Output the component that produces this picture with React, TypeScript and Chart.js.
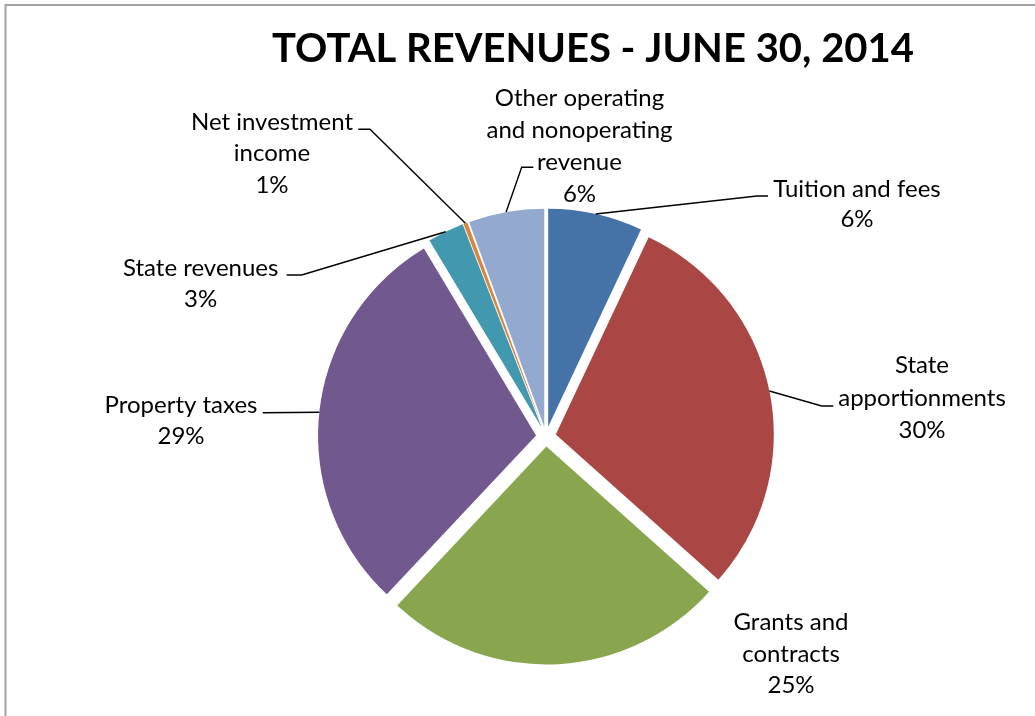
import React, { useEffect, useRef } from "react";
import { Chart, registerables } from "chart.js";

Chart.register(...registerables);

// ---- data ----
const CATEGORIES = [
  "Tuition and fees",
  "State apportionments",
  "Grants and contracts",
  "Property taxes",
  "State revenues",
  "Net investment income",
  "Other operating and nonoperating revenue",
];
const SHARES = [7.0, 29.6, 25.4, 29.4, 2.7, 0.3, 5.6];
const PERCENT_LABELS = ["6%", "30%", "25%", "29%", "3%", "1%", "6%"];
const LABEL_LINES = [
  ["Tuition and fees"],
  ["State", "apportionments"],
  ["Grants and", "contracts"],
  ["Property taxes"],
  ["State revenues"],
  ["Net investment", "income"],
  ["Other operating", "and nonoperating", "revenue"],
];
const TITLE = "TOTAL REVENUES - JUNE 30, 2014";

// ---- styles / layout ----
const COLORS = ["#4572A7", "#AA4643", "#89A54E", "#71588F", "#4198AF", "#DB843D", "#93A9CF"];
const EXPLODE = 10;
const LABEL_FONT = "24px Lato";
const TITLE_FONT = "bold 40px Lato";

// label placement relative to the pie centre (px)
type Pt = [number, number];
const LABEL_LAYOUT: { dx: number; dy: number; lh: number; elbow?: Pt; end?: Pt }[] = [
  { dx: 311, dy: -239.8, lh: 30, elbow: [211, -240.5], end: [222, -240.5] },
  { dx: 376, dy: -63.2, lh: 32.5, elbow: [275.7, -30.5], end: [287.3, -30.5] },
  { dx: 245, dy: 193.5, lh: 31.5 },
  { dx: -365, dy: -23.2, lh: 30.7, end: [-283.3, -23.8] },
  { dx: -345.3, dy: -160.5, lh: 30.7, elbow: [-244.3, -161.5], end: [-259.3, -161.5] },
  { dx: -274, dy: -307, lh: 31.5, elbow: [-176, -307.2], end: [-187.7, -307.2] },
  { dx: 33.5, dy: -330.5, lh: 32, elbow: [-24.3, -269.2], end: [-12.7, -269.2] },
];

const explodedPie = {
  id: "explodedPie",
  beforeDatasetDraw(chart: any, args: any) {
    const meta = chart.getDatasetMeta(args.index);
    const ctx = chart.ctx;
    ctx.save();
    meta.data.forEach((arc: any) => {
      const { x, y, startAngle, endAngle, outerRadius } = arc.getProps(
        ["x", "y", "startAngle", "endAngle", "outerRadius"],
        true
      );
      const mid = (startAngle + endAngle) / 2;
      const ox = x + Math.cos(mid) * EXPLODE;
      const oy = y + Math.sin(mid) * EXPLODE;
      ctx.beginPath();
      ctx.moveTo(ox, oy);
      ctx.arc(ox, oy, outerRadius, startAngle, endAngle);
      ctx.closePath();
      ctx.fillStyle = arc.options.backgroundColor;
      ctx.fill();
    });
    ctx.restore();
    return false;
  },
  afterDatasetsDraw(chart: any) {
    const meta = chart.getDatasetMeta(0);
    const ctx = chart.ctx;
    ctx.save();
    ctx.strokeStyle = "#000";
    ctx.lineWidth = 1.4;
    ctx.fillStyle = "#000";
    ctx.font = LABEL_FONT;
    ctx.textAlign = "center";
    ctx.textBaseline = "alphabetic";
    meta.data.forEach((arc: any, i: number) => {
      const { x, y, startAngle, endAngle, outerRadius } = arc.getProps(
        ["x", "y", "startAngle", "endAngle", "outerRadius"],
        true
      );
      const L = LABEL_LAYOUT[i];
      const mid = (startAngle + endAngle) / 2;
      if (L.end) {
        const ax = x + Math.cos(mid) * (EXPLODE + outerRadius);
        const ay = y + Math.sin(mid) * (EXPLODE + outerRadius);
        ctx.beginPath();
        ctx.moveTo(ax, ay);
        if (L.elbow) ctx.lineTo(x + L.elbow[0], y + L.elbow[1]);
        ctx.lineTo(x + L.end[0], y + L.end[1]);
        ctx.stroke();
      }
      const lines = [...LABEL_LINES[i], PERCENT_LABELS[i]];
      lines.forEach((t, k) => {
        ctx.fillText(t, x + L.dx, y + L.dy + k * L.lh);
      });
    });
    ctx.restore();
  },
  afterDraw(chart: any) {
    const ctx = chart.ctx;
    ctx.save();
    ctx.strokeStyle = "#a3a3a3";
    ctx.lineWidth = 2;
    ctx.strokeRect(5.5, 5, 3000, 3000);
    ctx.fillStyle = "#000";
    ctx.font = TITLE_FONT;
    ctx.textAlign = "center";
    ctx.textBaseline = "alphabetic";
    ctx.fillText(TITLE, 593, 61.7);
    ctx.restore();
  },
};

export default function App() {
  const ref = useRef<HTMLCanvasElement>(null);
  useEffect(() => {
    if (!ref.current) return;
    const chart = new Chart(ref.current, {
      type: "pie",
      data: {
        labels: CATEGORIES,
        datasets: [
          {
            data: SHARES,
            backgroundColor: COLORS,
            borderWidth: 0,
          },
        ],
      },
      options: {
        responsive: false,
        animation: false,
        radius: 218,
        layout: { padding: { left: 60, right: 3, top: 160, bottom: 3 } },
        plugins: {
          legend: { display: false },
          title: { display: false },
          tooltip: { enabled: false },
        },
      } as any,
      plugins: [explodedPie],
    });
    return () => chart.destroy();
  }, []);
  return (
    <div style={{ position: "absolute", left: 0, top: 0, width: 1035, height: 716, background: "#fff" }}>
      <canvas ref={ref} width={1035} height={716} style={{ display: "block" }} />
    </div>
  );
}
